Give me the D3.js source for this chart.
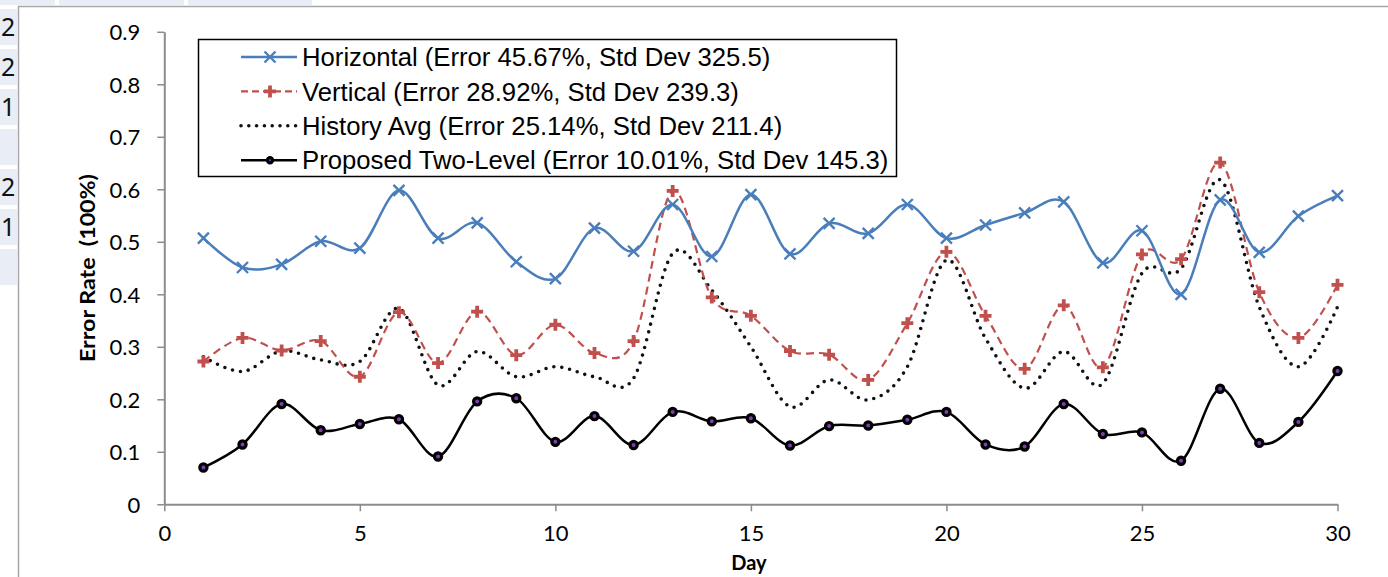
<!DOCTYPE html>
<html>
<head>
<meta charset="utf-8">
<script src="https://cdn.jsdelivr.net/npm/d3@7"></script>
<style>
  html, body { margin: 0; padding: 0; background: #fff; }
  svg { display: block; }
</style>
</head>
<body>
<svg id="chart" width="1388" height="577"></svg>
<script>
// Data //
const days = d3.range(1, 31)

const horizontal = [0.507, 0.451, 0.457, 0.501, 0.488, 0.598, 0.507, 0.536, 0.462, 0.430,
                    0.526, 0.482, 0.571, 0.472, 0.590, 0.477, 0.535, 0.516, 0.571, 0.507,
                    0.532, 0.555, 0.576, 0.460, 0.521, 0.400, 0.580, 0.480, 0.549, 0.588]

const vertical = [0.272, 0.317, 0.293, 0.311, 0.243, 0.366, 0.269, 0.367, 0.284, 0.342,
                  0.288, 0.311, 0.597, 0.394, 0.359, 0.292, 0.285, 0.237, 0.345, 0.481,
                  0.359, 0.258, 0.379, 0.261, 0.476, 0.467, 0.651, 0.404, 0.317, 0.418]

const historyAvg = [0.281, 0.253, 0.292, 0.275, 0.272, 0.373, 0.227, 0.291, 0.243, 0.262,
                    0.243, 0.240, 0.478, 0.408, 0.300, 0.186, 0.237, 0.199, 0.262, 0.465,
                    0.316, 0.221, 0.291, 0.230, 0.440, 0.449, 0.618, 0.376, 0.262, 0.376]

const proposed = [0.070, 0.114, 0.191, 0.141, 0.153, 0.162, 0.091, 0.196, 0.202, 0.119,
                  0.168, 0.113, 0.176, 0.158, 0.164, 0.112, 0.149, 0.150, 0.161, 0.176,
                  0.114, 0.110, 0.191, 0.134, 0.137, 0.083, 0.220, 0.117, 0.157, 0.254]

const legendLabels = [
    "Horizontal (Error 45.67%, Std Dev 325.5)",
    "Vertical (Error 28.92%, Std Dev 239.3)",
    "History Avg (Error 25.14%, Std Dev 211.4)",
    "Proposed Two-Level (Error 10.01%, Std Dev 145.3)"
]

const xTicks = [0, 5, 10, 15, 20, 25, 30]
const yTicks = [0, 0.1, 0.2, 0.3, 0.4, 0.5, 0.6, 0.7, 0.8, 0.9]

// spreadsheet cells peeking out on the left
const cellDigits = ["2", "2", "1", "", "2", "1", ""]

const BLUE = "#4a7ebb"
const RED = "#c0504d"
const AXIS = "#8c8c8c"

var svg = d3.select("#chart")

// Background sheet bits //
svg.append("rect").attr("width", 1388).attr("height", 577).attr("fill", "#fff")

var topCells = [[0, 55], [59, 184], [188, 312]]
topCells.forEach(c => {
    svg.append("rect")
        .attr("x", c[0]).attr("y", 0)
        .attr("width", c[1] - c[0]).attr("height", 5)
        .attr("fill", "#e8edf6")
})

cellDigits.forEach((d, i) => {
    var y0 = 7 + i * 40
    svg.append("rect")
        .attr("x", 0).attr("y", y0 + 2)
        .attr("width", 17).attr("height", 36)
        .attr("fill", "#e8edf6")
    svg.append("text")
        .attr("x", 1).attr("y", y0 + 29)
        .attr("font-family", "Noto Sans, sans-serif")
        .attr("font-size", 25)
        .attr("fill", "#111")
        .text(d)
})

// chart frame
svg.append("path")
    .attr("d", "M18.5,577 L18.5,6.5 L1388,6.5")
    .attr("fill", "none")
    .attr("stroke", "#a6a6a6")
    .attr("stroke-width", 1.5)

// Scales //
var xScale = d3.scaleLinear().domain([0, 30]).range([164.3, 1337.5])
var yScale = d3.scaleLinear().domain([0, 0.9]).range([504.3, 31.8])

// Axes //
var xAxis = svg.append("g")
    .attr("transform", "translate(0," + yScale(0) + ")")
    .call(d3.axisBottom(xScale).tickValues(xTicks).tickSizeInner(7).tickSizeOuter(0).tickPadding(14))

var yAxis = svg.append("g")
    .attr("transform", "translate(" + xScale(0) + ",0)")
    .call(d3.axisLeft(yScale).tickValues(yTicks).tickSizeInner(7).tickSizeOuter(0).tickPadding(17)
        .tickFormat(d => d === 0 ? "0" : d3.format(".1f")(d)))

;[xAxis, yAxis].forEach(a => {
    a.select(".domain").attr("stroke", AXIS).attr("stroke-width", 2)
    a.selectAll(".tick line").attr("stroke", AXIS).attr("stroke-width", 1.5)
    a.selectAll(".tick text")
        .attr("font-family", "Lato, sans-serif")
        .attr("font-size", 22)
        .attr("fill", "#000")
})
yAxis.selectAll(".tick text").attr("dy", "0.36em")

// Axis titles //
svg.append("text")
    .attr("x", xScale(15) - 2)
    .attr("y", 570)
    .attr("text-anchor", "middle")
    .attr("font-family", "Lato, sans-serif")
    .attr("font-weight", "bold")
    .attr("font-size", 20)
    .text("Day")

svg.append("text")
    .attr("transform", "translate(95,268) rotate(-90)")
    .attr("text-anchor", "middle")
    .attr("font-family", "Lato, sans-serif")
    .attr("font-weight", "bold")
    .attr("font-size", 21)
    .attr("xml:space", "preserve")
    .attr("textLength", 188)
    .attr("lengthAdjust", "spacingAndGlyphs")
    .text("Error Rate  (100%)")

// Series //
var line = d3.line()
    .x((d, i) => xScale(days[i]))
    .y(d => yScale(d))
    .curve(d3.curveCardinal.tension(0))

var series = [
    {values: historyAvg, color: "#111", width: 3.6, dash: "0 8", cap: "round", marker: null},
    {values: vertical, color: RED, width: 2.2, dash: "8 5", cap: "butt", marker: "plus"},
    {values: horizontal, color: BLUE, width: 2.5, dash: null, cap: "butt", marker: "cross"},
    {values: proposed, color: "#000", width: 2.5, dash: null, cap: "butt", marker: "circle"}
]

function drawMarker(g, type, x, y, r) {
    if (type === "cross") {
        var s = 5.5
        g.append("path")
            .attr("d", `M${x - s},${y - s}L${x + s},${y + s}M${x - s},${y + s}L${x + s},${y - s}`)
            .attr("stroke", BLUE).attr("stroke-width", 2.4).attr("fill", "none")
    } else if (type === "plus") {
        var s = 6
        g.append("path")
            .attr("d", `M${x - s},${y}L${x + s},${y}M${x},${y - s}L${x},${y + s}`)
            .attr("stroke", RED).attr("stroke-width", 3.8).attr("fill", "none")
    } else if (type === "circle") {
        g.append("circle")
            .attr("cx", x).attr("cy", y).attr("r", r || 3.6)
            .attr("fill", "#7b3fb0").attr("stroke", "#000").attr("stroke-width", 3.2)
    }
}

series.forEach(s => {
    var g = svg.append("g")
    g.append("path")
        .datum(s.values)
        .attr("d", line)
        .attr("fill", "none")
        .attr("stroke", s.color)
        .attr("stroke-width", s.width)
        .attr("stroke-dasharray", s.dash)
        .attr("stroke-linecap", s.cap)
    if (s.marker) {
        s.values.forEach((v, i) => drawMarker(g, s.marker, xScale(days[i]), yScale(v)))
    }
})

// Legend //
var legend = svg.append("g")
legend.append("rect")
    .attr("x", 198.5).attr("y", 39.5)
    .attr("width", 698).attr("height", 137)
    .attr("fill", "#fff")
    .attr("stroke", "#000")
    .attr("stroke-width", 1.5)

var legendOrder = [series[2], series[1], series[0], series[3]]
legendOrder.forEach((s, i) => {
    var y = 57 + i * 34.4
    legend.append("line")
        .attr("x1", 241).attr("x2", 297)
        .attr("y1", y).attr("y2", y)
        .attr("stroke", s.color)
        .attr("stroke-width", s.width)
        .attr("stroke-dasharray", s.dash === "0 8" ? "0 7.8" : (s.dash ? "7 4" : null))
        .attr("stroke-linecap", s.cap)
    if (s.marker) drawMarker(legend, s.marker, 270, y, 2.6)
    legend.append("text")
        .attr("x", 302)
        .attr("y", y)
        .attr("dy", "0.36em")
        .attr("font-family", "Liberation Sans, Arial, sans-serif")
        .attr("font-size", 25.7)
        .attr("fill", "#000")
        .text(legendLabels[i])
})
</script>
</body>
</html>
